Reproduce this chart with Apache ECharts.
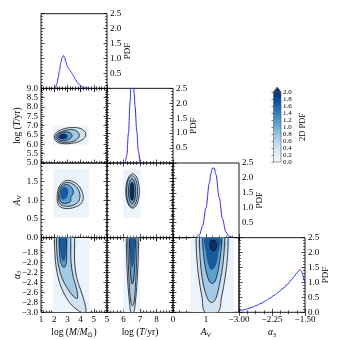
<!DOCTYPE html>
<html><head><meta charset="utf-8">
<script src="https://cdn.jsdelivr.net/npm/echarts@6/dist/echarts.min.js"></script>
<style>html,body{margin:0;padding:0;background:#fff}#c{width:340px;height:340px}</style>
</head><body><div id="c"></div>
<script>
// ===== DATA =====
// 1D marginal PDFs
const pdfLogM_x = [2.0,2.1,2.2,2.3,2.4,2.5,2.6,2.7,2.8,2.9,3.0,3.1,3.2,3.3,3.4,3.5,3.6,3.8,4.0,4.2,4.4,4.6];
const pdfLogM_y = [0,0.03,0.15,0.35,0.6,0.85,1.03,1.1,1.02,0.87,0.73,0.65,0.6,0.54,0.46,0.38,0.3,0.17,0.08,0.03,0.01,0];
const pdfLogT_x = [6.1,6.2,6.3,6.4,6.45,6.5,6.55,6.6,6.65,6.7,6.8,6.9,7.0];
const pdfLogT_y = [0,0.25,1.0,2.05,2.6,2.95,3.0,2.7,2.3,1.9,1.1,0.4,0];
const pdfAV_x = [0.7,0.8,0.9,1.0,1.1,1.15,1.2,1.25,1.3,1.4,1.5,1.6,1.7,1.8];
const pdfAV_y = [0.02,0.1,0.4,1.0,1.82,2.15,2.33,2.33,2.12,1.35,0.63,0.2,0.05,0.01];
const pdfA3_x = [-3.0,-2.9,-2.8,-2.7,-2.6,-2.5,-2.4,-2.3,-2.2,-2.1,-2.0,-1.9,-1.8,-1.75,-1.7,-1.65,-1.62,-1.58,-1.55,-1.52,-1.5];
const pdfA3_y = [0.05,0.08,0.12,0.17,0.23,0.3,0.38,0.47,0.57,0.68,0.8,0.94,1.1,1.19,1.29,1.38,1.43,1.38,1.25,1.08,0.97];

// Tick label lists
const xTicksLogM = [1,2,3,4,5];
const xTicksLogT = [5,6,7,8];
const xTicksAV = [0,1];
const xTicksA3 = [-3.0,-2.25,-1.5];
const yTicksLogT = [5.0,5.5,6.0,6.5,7.0,7.5,8.0,8.5,9.0];
const yTicksAV = [0.0,0.5,1.0,1.5];
const yTicksA3 = [-3.0,-2.8,-2.6,-2.4,-2.2,-2.0,-1.8];
const pdfTicks = [0.5,1.0,1.5,2.0,2.5];
const cbarTicks = [0.0,0.2,0.4,0.6,0.8,1.0,1.2,1.4,1.6,1.8,2.0];

// 2D panels: KDE extent [xmin,xmax,ymin,ymax] and contour polygons [x,y]
const MT_extent = [1.9,4.6,5.95,7.0];
const MT_c1 = [[2.0,6.4],[2.1,6.2],[2.35,6.08],[2.8,6.03],[3.3,6.05],[3.8,6.13],[4.2,6.28],[4.4,6.5],[4.3,6.7],[3.95,6.86],[3.4,6.9],[2.8,6.85],[2.35,6.72],[2.08,6.56]];
const MT_c2 = [[2.12,6.4],[2.2,6.24],[2.45,6.14],[2.85,6.1],[3.3,6.14],[3.7,6.25],[3.9,6.45],[3.8,6.65],[3.45,6.78],[2.9,6.76],[2.45,6.65],[2.18,6.53]];
const MT_c3 = [[2.22,6.42],[2.3,6.27],[2.55,6.2],[2.9,6.2],[3.2,6.3],[3.35,6.45],[3.25,6.6],[2.9,6.67],[2.5,6.6],[2.27,6.52]];
const MT_core = [[2.3,6.42],[2.4,6.3],[2.65,6.26],[2.95,6.3],[3.05,6.45],[2.9,6.57],[2.55,6.56]];
const MT_c4 = [[2.42,6.42],[2.5,6.34],[2.7,6.32],[2.85,6.38],[2.85,6.48],[2.7,6.53],[2.5,6.5]];

const MA_extent = [1.95,4.65,0.54,1.83];
const MA_c1 = [[2.22,1.05],[2.3,1.3],[2.55,1.45],[2.9,1.53],[3.3,1.52],[3.75,1.43],[4.1,1.25],[4.2,1.05],[4.0,0.9],[3.6,0.82],[3.1,0.78],[2.6,0.8],[2.32,0.88]];
const MA_c2 = [[2.32,1.07],[2.4,1.3],[2.6,1.42],[2.95,1.48],[3.35,1.45],[3.75,1.33],[3.95,1.15],[3.85,0.97],[3.5,0.88],[3.1,0.84],[2.65,0.86],[2.4,0.93]];
const MA_c3 = [[2.42,1.1],[2.5,1.3],[2.7,1.4],[3.0,1.42],[3.3,1.35],[3.45,1.2],[3.25,1.08],[3.25,0.98],[2.95,0.92],[2.6,0.93],[2.45,1.0]];
const MA_core = [[2.5,1.15],[2.6,1.32],[2.85,1.36],[3.05,1.28],[3.0,1.1],[2.75,1.02],[2.55,1.05]];

const Ma_extent = [1.93,4.66,-3.0,-1.5];
const Ma_c1 = [[2.02,-1.5],[2.05,-1.8],[2.15,-2.1],[2.4,-2.4],[2.8,-2.65],[3.3,-2.85],[3.85,-2.97],[4.05,-3.0],[4.4,-3.0],[4.3,-2.8],[4.0,-2.55],[3.7,-2.3],[3.55,-2.0],[3.55,-1.5]];
const Ma_c2 = [[2.18,-1.5],[2.2,-1.8],[2.32,-2.05],[2.6,-2.32],[3.0,-2.52],[3.45,-2.68],[3.75,-2.72],[3.72,-2.55],[3.45,-2.3],[3.28,-2.0],[3.25,-1.5]];
const Ma_c3 = [[2.38,-1.5],[2.4,-1.8],[2.5,-2.0],[2.75,-2.1],[2.92,-2.0],[2.95,-1.75],[2.95,-1.5]];
const Ma_core = [[2.42,-1.5],[2.45,-1.75],[2.55,-1.92],[2.75,-1.98],[2.88,-1.85],[2.9,-1.5]];

const TA_extent = [6.0,7.04,0.54,1.83];
const TA_c1 = [[6.96,1.25],[6.905,1.48],[6.755,1.65],[6.55,1.71],[6.345,1.65],[6.195,1.48],[6.14,1.25],[6.195,1.02],[6.345,0.85],[6.55,0.79],[6.755,0.85],[6.905,1.02]];
const TA_c2 = [[6.85,1.24],[6.81,1.45],[6.685,1.6],[6.52,1.66],[6.355,1.6],[6.23,1.45],[6.19,1.24],[6.23,1.03],[6.355,0.88],[6.52,0.82],[6.685,0.88],[6.81,1.03]];
const TA_c3 = [[6.74,1.24],[6.71,1.41],[6.63,1.53],[6.52,1.58],[6.41,1.53],[6.33,1.41],[6.3,1.24],[6.33,1.07],[6.41,0.95],[6.52,0.9],[6.63,0.95],[6.71,1.07]];
const TA_core = [[6.64,1.24],[6.62,1.36],[6.58,1.45],[6.52,1.48],[6.46,1.45],[6.42,1.36],[6.4,1.24],[6.42,1.12],[6.46,1.03],[6.52,1.0],[6.58,1.03],[6.62,1.12]];
const TA_c4 = TA_core;

const Ta_extent = [6.0,7.0,-3.0,-1.5];
const Ta_c1 = [[6.17,-1.5],[6.2,-2.0],[6.28,-2.5],[6.38,-2.85],[6.45,-3.0],[6.62,-3.0],[6.7,-2.85],[6.8,-2.5],[6.88,-2.0],[6.92,-1.5]];
const Ta_c2 = [[6.26,-1.5],[6.29,-2.0],[6.36,-2.5],[6.45,-2.8],[6.55,-2.87],[6.64,-2.8],[6.72,-2.5],[6.79,-2.0],[6.82,-1.5]];
const Ta_c3 = [[6.36,-1.5],[6.38,-1.9],[6.43,-2.25],[6.52,-2.43],[6.6,-2.38],[6.66,-2.2],[6.7,-1.9],[6.72,-1.5]];
const Ta_core = [[6.4,-1.5],[6.42,-1.9],[6.5,-2.1],[6.6,-2.05],[6.66,-1.8],[6.67,-1.5]];

const Aa_extent = [0.52,1.85,-3.0,-1.5];
const Aa_c1 = [[0.7,-1.5],[0.72,-1.9],[0.78,-2.3],[0.88,-2.7],[0.97,-3.0],[1.36,-3.0],[1.47,-2.7],[1.58,-2.3],[1.65,-1.9],[1.67,-1.5]];
const Aa_c2 = [[0.8,-1.5],[0.82,-1.9],[0.88,-2.3],[0.98,-2.6],[1.1,-2.78],[1.2,-2.8],[1.3,-2.72],[1.42,-2.4],[1.52,-2.0],[1.57,-1.5]];
const Aa_c3 = [[0.9,-1.5],[0.92,-1.8],[0.98,-2.1],[1.08,-2.35],[1.17,-2.42],[1.27,-2.38],[1.37,-2.15],[1.45,-1.8],[1.48,-1.5]];
const Aa_core = [[0.97,-1.5],[1.0,-1.8],[1.07,-2.05],[1.17,-2.15],[1.3,-2.05],[1.38,-1.8],[1.42,-1.5]];
const Aa_c4 = [[1.12,-1.62],[1.15,-1.56],[1.22,-1.55],[1.3,-1.58],[1.33,-1.67],[1.28,-1.75],[1.2,-1.77],[1.14,-1.72]];

// ===== LAYOUT / STYLE =====
const FONT = 'Liberation Serif';
const X0 = 41, Y0 = 13.7, W = 66, H = 74.65;
const LINE_BLUE = '#2d2dff';
const FILLS = ['#ebf3fb','#d2e3f3','#a3cae4','#5b9fd0','#17599e','#08306b'];
const minus = s => String(s).replace('-', '\u2212');
const near = (v, list) => list.some(t => Math.abs(t - v) < 1e-6);

const colDefs = [
  {min:1,max:6,int:1,minor:5,ticks:xTicksLogM,dec:0},
  {min:5,max:9,int:1,minor:5,ticks:xTicksLogT,dec:0},
  {min:0,max:2,int:1,minor:5,ticks:xTicksAV,dec:0},
  {min:-3,max:-1.5,int:0.75,minor:4,ticks:xTicksA3,dec:2},
];
const rowDefs = [
  null,
  {min:5,max:9,int:0.5,minor:5,ticks:yTicksLogT,dec:1},
  {min:0,max:2,int:0.5,minor:5,ticks:yTicksAV,dec:1},
  {min:-3,max:-1.5,int:0.2,minor:4,ticks:yTicksA3,dec:1},
];
const pdfDef = {min:0,max:2.5,int:0.5,minor:5,dec:1};

const rich = {
  n:{fontFamily:FONT,fontSize:9.5,color:'#000',lineHeight:12},
  i:{fontFamily:FONT,fontSize:9.5,fontStyle:'italic',color:'#000',lineHeight:12},
  s:{fontFamily:FONT,fontSize:6.5,color:'#000',verticalAlign:'bottom',lineHeight:7}
};
const names = [
  '{n|log (}{i|M}{n|/}{i|M}{s|\u2299}{n|)}',
  '{n|log (}{i|T}{n|/yr)}',
  '{i|A}{s|V}',
  '{i|\u03b1}{s|3}'
];

function axisBase(def, minorOverride){
  return {
    type:'value', min:def.min, max:def.max, interval:def.int,
    axisLine:{show:false}, splitLine:{show:false}, minorSplitLine:{show:false},
    axisTick:{show:true,inside:true,length:3.5,lineStyle:{color:'#000',width:0.7}},
    minorTick:{show:true,splitNumber:minorOverride||def.minor,length:2,lineStyle:{color:'#000',width:0.6}},
    nameMoveOverlap:false
  };
}
function labelCfg(show, def, ticks, size){
  return {show, margin:3, fontSize:size||9, fontFamily:FONT, color:'#000',
    showMinLabel:true, showMaxLabel:true, hideOverlap:false,
    formatter: v => near(v, ticks) ? minus(v.toFixed(def.dec)) : ''};
}

const diagData = [
  [pdfLogM_x, pdfLogM_y], [pdfLogT_x, pdfLogT_y], [pdfAV_x, pdfAV_y], [pdfA3_x, pdfA3_y]
];
const panels2d = {
  '1,0': {ext:MT_extent, lines:[MT_c1,MT_c2,MT_c3,MT_c4], core:MT_core},
  '2,0': {ext:MA_extent, lines:[MA_c1,MA_c2,MA_c3], core:MA_core},
  '3,0': {ext:Ma_extent, lines:[Ma_c1,Ma_c2,Ma_c3], core:Ma_core},
  '2,1': {ext:TA_extent, lines:[TA_c1,TA_c2,TA_c3,TA_c4], core:TA_core},
  '3,1': {ext:Ta_extent, lines:[Ta_c1,Ta_c2,Ta_c3], core:Ta_core},
  '3,2': {ext:Aa_extent, lines:[Aa_c1,Aa_c2,Aa_c3,Aa_c4], core:Aa_core},
};

const grids=[], xAxis=[], yAxis=[], series=[];
let gi = 0;
for (let r=0;r<4;r++){
  for (let c=0;c<=r;c++){
    grids.push({left:X0+c*W, top:Y0+r*H, width:W, height:H, show:true, borderColor:'#000', borderWidth:0.9, backgroundColor:'transparent', containLabel:false, outerBoundsMode:'none'});
    const cd = colDefs[c];
    const xb = Object.assign(axisBase(cd), {gridIndex:gi, position:'bottom', axisLabel:labelCfg(r===3, cd, cd.ticks)});
    if (r===3){
      Object.assign(xb,{name:names[c], nameLocation:'middle', nameGap:14, nameTextStyle:{rich, fontFamily:FONT, fontSize:9.5, verticalAlign:'top'}});
    }
    const xt = Object.assign(axisBase(cd), {gridIndex:gi, position:'top', axisLabel:{show:false}});
    xAxis.push(xb); const xi = xAxis.length-1; xAxis.push(xt);
    const diag = (r===c);
    const yd = diag ? pdfDef : rowDefs[r];
    const pdfShow = diag ? (r===3 ? [0.0].concat(pdfTicks) : pdfTicks) : [];
    const yl = Object.assign(axisBase(yd), {gridIndex:gi, position:'left',
      axisLabel: labelCfg(!diag && c===0, yd, diag?[]:yd.ticks)});
    if (!diag && c===0){
      Object.assign(yl,{name:names[r], nameLocation:'middle', nameGap:18, nameTextStyle:{rich, fontFamily:FONT, fontSize:9.5}});
    }
    const yr = Object.assign(axisBase(yd), {gridIndex:gi, position:'right',
      axisLabel: labelCfg(diag, yd, pdfShow)});
    if (diag){
      Object.assign(yr,{name:'PDF', nameLocation:'middle', nameGap:16, nameTextStyle:{fontFamily:FONT, fontSize:9, color:'#000'}});
    }
    yAxis.push(yl); const yi = yAxis.length-1; yAxis.push(yr);

    if (diag){
      const [xs, ys] = diagData[r];
      series.push({type:'line', xAxisIndex:xi, yAxisIndex:yi, data: xs.map((x,k)=>[x, ys[k]]),
        showSymbol:false, symbol:'none', smooth:0.35, smoothMonotone:'x', clip:true,
        lineStyle:{color:LINE_BLUE, width:1}, silent:true, z:5});
    } else {
      const p = panels2d[r+','+c];
      const e = p.ext;
      const items = [];
      items.push({kind:'fill', level:0, pts:[[e[0],e[2]],[e[1],e[2]],[e[1],e[3]],[e[0],e[3]]], smooth:0});
      p.lines.slice(0,3).forEach((pts,k)=>items.push({kind:'fill', level:k+1, pts, smooth:0.35}));
      items.push({kind:'fill', level:4, pts:p.core, smooth:0.35});
      if (p.lines[3]) items.push({kind:'fill', level:5, pts:p.lines[3], smooth:0.35});
      p.lines.forEach(pts=>{
        const open = Math.abs(pts[0][1] - rowDefs[r].max) < 1e-9;
        items.push({kind:'line', open, pts});
      });
      series.push({type:'custom', xAxisIndex:xi, yAxisIndex:yi, clip:true, silent:true, z:3,
        data: items.map(it=>it.pts[0]),
        renderItem:(params, api)=>{
          const it = items[params.dataIndex];
          const pts = it.pts.map(q=>api.coord(q));
          if (it.kind==='fill'){
            return {type:'polygon', shape:{points:pts, smooth:it.smooth}, style:{fill:FILLS[it.level], stroke:null}, silent:true};
          }
          return {type: it.open?'polyline':'polygon', shape:{points:pts, smooth:0.35},
            style:{fill:'none', stroke:'#141414', lineWidth:0.8}, silent:true};
        }});
    }
    gi++;
  }
}

// Colorbar
grids.push({left:273.5, top:92, width:7.5, height:70, show:false, containLabel:false, outerBoundsMode:'none'});
xAxis.push({type:'value', gridIndex:gi, min:0, max:1, show:false});
const cbx = xAxis.length-1;
yAxis.push({type:'value', gridIndex:gi, position:'right', min:0, max:2, interval:0.2,
  axisLine:{show:false}, splitLine:{show:false},
  axisTick:{show:true,inside:true,length:2,lineStyle:{color:'#333',width:0.6}},
  axisLabel:{show:true, margin:2, fontSize:7, fontFamily:FONT, color:'#000', showMinLabel:true, showMaxLabel:true,
    formatter:v=> near(v,cbarTicks)? v.toFixed(1):''},
  name:'2D PDF', nameLocation:'middle', nameGap:17, nameTextStyle:{fontFamily:FONT, fontSize:8.5, color:'#000'}, nameMoveOverlap:false});
const cby = yAxis.length-1;
const cbItems = ['bar','tri'];
series.push({type:'custom', xAxisIndex:cbx, yAxisIndex:cby, silent:true, z:2,
  data: cbItems.map(()=>[0,0]),
  renderItem:(params, api)=>{
    const p0 = api.coord([0, cbarTicks[0]]);
    const p1 = api.coord([1, cbarTicks[cbarTicks.length-1]]);
    if (params.dataIndex===0){
      return {type:'rect', shape:{x:p0[0], y:p1[1], width:p1[0]-p0[0], height:p0[1]-p1[1]},
        style:{fill:{type:'linear',x:0,y:0,x2:0,y2:1,colorStops:[
          {offset:0,color:'#08306b'},{offset:0.125,color:'#08519c'},{offset:0.25,color:'#2171b5'},
          {offset:0.375,color:'#4292c6'},{offset:0.5,color:'#6baed6'},{offset:0.625,color:'#9ecae1'},
          {offset:0.75,color:'#c6dbef'},{offset:0.875,color:'#deebf7'},{offset:1,color:'#f7fbff'}]},
          stroke:'#555', lineWidth:0.6}};
    }
    return {type:'polygon', shape:{points:[[p0[0],p1[1]],[p1[0],p1[1]],[(p0[0]+p1[0])/2,p1[1]-5]]},
      style:{fill:'#08306b', stroke:'#555', lineWidth:0.6}};
  }});

const chart = echarts.init(document.getElementById('c'), null, {renderer:'canvas'});
chart.setOption({animation:false, textStyle:{fontFamily:FONT}, grid:grids, xAxis, yAxis, series});
</script>
</body></html>
